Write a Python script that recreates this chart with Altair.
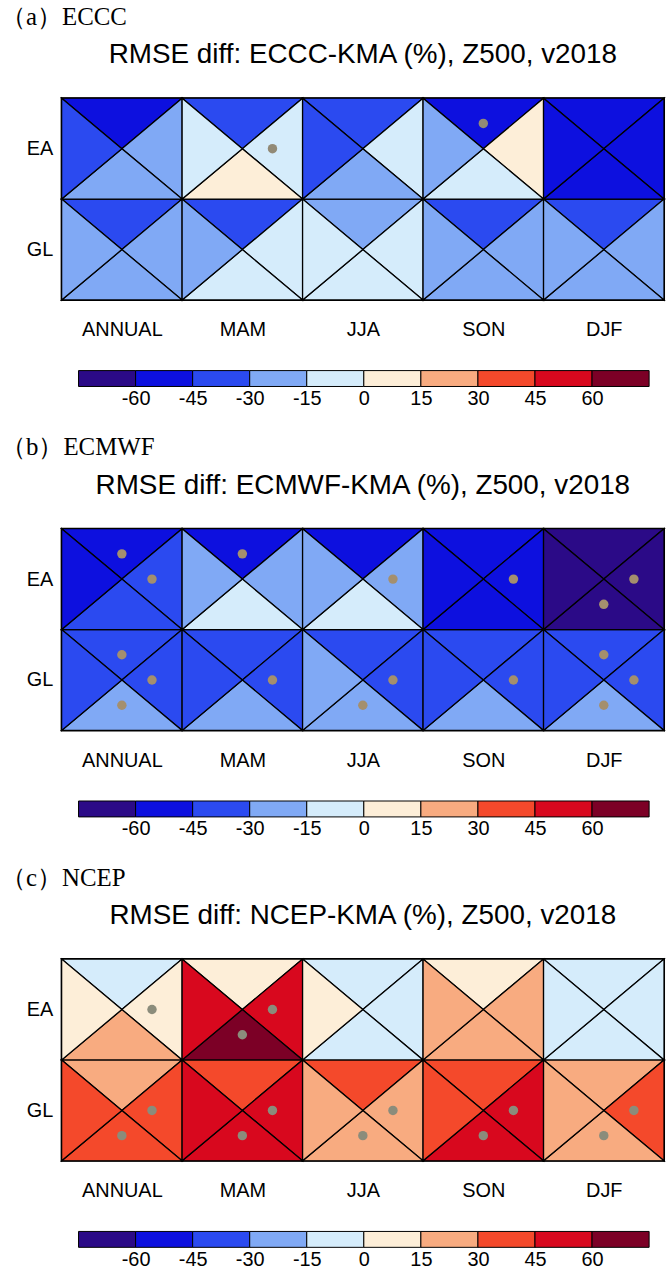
import altair as alt
import pandas as pd

# ---------------- data ----------------
seasons = ["ANNUAL", "MAM", "JJA", "SON", "DJF"]
regions = ["EA", "GL"]
models = ["ECCC", "ECMWF", "NCEP"]
panel_tags = ["（a）", "（b）", "（c）"]

# RMSE difference (%) per triangle: [EA row, GL row], values over seasons
ECCC_top    = [[-52, -38, -36, -50, -54], [-36, -37, -22, -38, -36]]
ECCC_right  = [[-24,  -8,  -9,   6, -53], [-21, -12, -10, -24, -22]]
ECCC_bottom = [[-22,   5, -20,  -6, -55], [-20,  -9,  -8, -22, -20]]
ECCC_left   = [[-35, -10, -37, -21, -52], [-23, -18, -11, -25, -23]]
ECCC_sig = [("EA", "MAM", "R"), ("EA", "SON", "T")]

ECMWF_top    = [[-50, -48, -47, -52, -65], [-40, -38, -37, -39, -41]]
ECMWF_right  = [[-40, -25, -24, -50, -66], [-42, -40, -39, -41, -43]]
ECMWF_bottom = [[-38, -10,  -9, -51, -64], [-26, -24, -23, -25, -27]]
ECMWF_left   = [[-49, -23, -22, -49, -63], [-38, -37, -24, -38, -39]]
ECMWF_sig = [("EA", "ANNUAL", "T"), ("EA", "ANNUAL", "R"), ("EA", "MAM", "T"),
             ("EA", "JJA", "R"), ("EA", "SON", "R"), ("EA", "DJF", "R"), ("EA", "DJF", "B"),
             ("GL", "ANNUAL", "T"), ("GL", "ANNUAL", "R"), ("GL", "ANNUAL", "B"),
             ("GL", "MAM", "R"), ("GL", "JJA", "R"), ("GL", "JJA", "B"), ("GL", "SON", "R"),
             ("GL", "DJF", "T"), ("GL", "DJF", "R"), ("GL", "DJF", "B")]

NCEP_top    = [[-8,  8, -7,  6, -6], [24, 40, 38, 39, 22]]
NCEP_right  = [[ 6, 52, -8, 22, -7], [37, 52, 23, 50, 38]]
NCEP_bottom = [[22, 66, -9, 23, -8], [36, 53, 21, 51, 24]]
NCEP_left   = [[ 5, 50,  7, 21, -5], [39, 51, 22, 38, 23]]
NCEP_sig = [("EA", "ANNUAL", "R"), ("EA", "MAM", "R"), ("EA", "MAM", "B"),
            ("GL", "ANNUAL", "R"), ("GL", "ANNUAL", "B"), ("GL", "MAM", "R"), ("GL", "MAM", "B"),
            ("GL", "JJA", "R"), ("GL", "JJA", "B"), ("GL", "SON", "R"), ("GL", "SON", "B"),
            ("GL", "DJF", "R"), ("GL", "DJF", "B")]

cb_edges = [-75, -60, -45, -30, -15, 0, 15, 30, 45, 60, 75]
cb_ticks = [-60, -45, -30, -15, 0, 15, 30, 45, 60]
cb_colors = ["#2b0a87", "#0d10df", "#2b4af0", "#80a9f5", "#d5ecfb",
             "#fdeed8", "#f8ab80", "#f4492b", "#d8081e", "#7c0026"]
dot_colors = ["#928a76", "#a48f6e", "#8b8c7b"]

panel_values = {
    "ECCC": (ECCC_top, ECCC_right, ECCC_bottom, ECCC_left, ECCC_sig),
    "ECMWF": (ECMWF_top, ECMWF_right, ECMWF_bottom, ECMWF_left, ECMWF_sig),
    "NCEP": (NCEP_top, NCEP_right, NCEP_bottom, NCEP_left, NCEP_sig),
}

SANS = "Liberation Sans"
SERIF = "Liberation Serif"
PLOT_W, PLOT_H = 606, 203

cscale = alt.Scale(type="threshold", domain=cb_ticks, range=cb_colors)


def tri_vertices(pos, c, r):
    cx, cy = c + 0.5, r + 0.5
    if pos == "T":
        return [(c, r), (c + 1, r), (cx, cy)]
    if pos == "R":
        return [(c + 1, r), (c + 1, r + 1), (cx, cy)]
    if pos == "B":
        return [(c + 1, r + 1), (c, r + 1), (cx, cy)]
    return [(c, r + 1), (c, r), (cx, cy)]


def dot_position(pos, c, r):
    return {"T": (c + 0.5, r + 0.25), "R": (c + 0.75, r + 0.5),
            "B": (c + 0.5, r + 0.75), "L": (c + 0.25, r + 0.5)}[pos]


def label_expr(names):
    return "[" + ",".join("'" + n + "'" for n in names) + "][floor(datum.value)]"


def panel(idx, model):
    top, right, bottom, left, sig = panel_values[model]
    rows = []
    for pos, arr in zip(["T", "R", "B", "L"], [top, right, bottom, left]):
        for r in range(len(regions)):
            for c in range(len(seasons)):
                for k, (vx, vy) in enumerate(tri_vertices(pos, c, r)):
                    rows.append({"tri": f"{r}-{c}-{pos}", "k": k, "x": vx, "y": vy,
                                 "v": arr[r][c]})
    df = pd.DataFrame(rows)
    dots = []
    for reg, sea, pos in sig:
        px, py = dot_position(pos, seasons.index(sea), regions.index(reg))
        dots.append({"x": px, "y": py})
    ddf = pd.DataFrame(dots)

    xs = alt.Scale(domain=[0, len(seasons)], nice=False, zero=False)
    ys = alt.Scale(domain=[0, len(regions)], nice=False, zero=False, reverse=True)
    xaxis = alt.Axis(values=[i + 0.5 for i in range(len(seasons))],
                     labelExpr=label_expr(seasons), ticks=False, domain=False, grid=False,
                     labelFontSize=20, labelFont=SANS, labelColor="black",
                     labelPadding=20, labelAngle=0, title=None)
    yaxis = alt.Axis(values=[i + 0.5 for i in range(len(regions))],
                     labelExpr=label_expr(regions), ticks=False, domain=False, grid=False,
                     labelFontSize=20, labelFont=SANS, labelColor="black",
                     labelPadding=9, title=None)

    polys = alt.Chart(df).mark_line(
        interpolate="linear-closed", stroke="black", strokeWidth=1.3
    ).encode(
        x=alt.X("x:Q", scale=xs, axis=xaxis),
        y=alt.Y("y:Q", scale=ys, axis=yaxis),
        detail="tri:N",
        order="k:Q",
        fill=alt.Fill("v:Q", scale=cscale, legend=None),
    )
    pts = alt.Chart(ddf).mark_circle(size=90, opacity=1, color=dot_colors[idx]).encode(
        x="x:Q", y="y:Q")
    header = alt.Chart(pd.DataFrame({"t": [panel_tags[idx] + model]})).mark_text(
        align="left", baseline="middle", font=SERIF, fontSize=25, color="black"
    ).encode(text="t:N", x=alt.value(-61), y=alt.value(-82))
    title = alt.Chart(pd.DataFrame({"t": [f"RMSE diff: {model}-KMA (%), Z500, v2018"]})).mark_text(
        align="center", baseline="alphabetic", font=SANS, fontSize=28, color="black"
    ).encode(text="t:N", x=alt.value(PLOT_W / 2), y=alt.value(-35))

    return alt.layer(polys, pts, header, title).properties(
        width=PLOT_W, height=PLOT_H,
        view=alt.ViewBackground(stroke="black", strokeWidth=2),
    )


def colorbar():
    cb = pd.DataFrame({"lo": cb_edges[:-1], "hi": cb_edges[1:]})
    cb["mid"] = (cb["lo"] + cb["hi"]) / 2
    return alt.Chart(cb).mark_rect(stroke="black", strokeWidth=1).encode(
        x=alt.X("lo:Q",
                scale=alt.Scale(domain=[cb_edges[0], cb_edges[-1]], range=[17, 591],
                                nice=False, zero=False),
                axis=alt.Axis(values=cb_ticks, ticks=False, domain=False, grid=False,
                              labelExpr="toString(datum.value)",
                              labelFontSize=20, labelFont=SANS, labelColor="black",
                              labelPadding=2, title=None)),
        x2="hi:Q",
        fill=alt.Fill("mid:Q", scale=cscale, legend=None),
    ).properties(width=PLOT_W, height=16,
                 view=alt.ViewBackground(strokeWidth=0))


blocks = [alt.vconcat(panel(i, m), colorbar(), spacing=29) for i, m in enumerate(models)]
chart = alt.vconcat(*blocks, spacing=26).properties(
    padding={"left": 0, "top": 0, "right": 0, "bottom": 0}
).configure(background="white").configure_view(strokeWidth=0)

chart.save("out.html", embed_options={"renderer": "svg", "actions": False})
